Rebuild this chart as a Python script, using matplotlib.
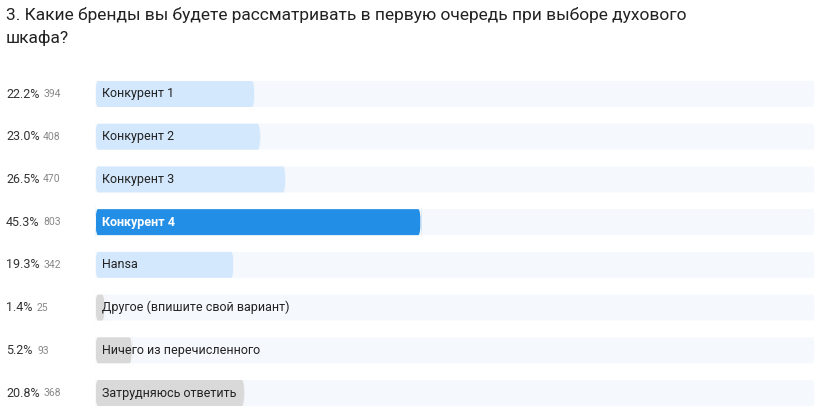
import matplotlib
matplotlib.use("Agg")
import matplotlib.pyplot as plt
from matplotlib.patches import FancyBboxPatch

labels = ["Конкурент 1", "Конкурент 2", "Конкурент 3", "Конкурент 4", "Hansa",
          "Другое (впишите свой вариант)", "Ничего из перечисленного", "Затрудняюсь ответить"]
pcts = [22.2, 23.0, 26.5, 45.3, 19.3, 1.4, 5.2, 20.8]
counts = [394, 408, 470, 803, 342, 25, 93, 368]
kinds = ["light", "light", "light", "dark", "light", "gray", "gray", "gray"]
colors = {"light": "#d3e8fd", "dark": "#238ee6", "gray": "#d9d9d9"}

plt.rcParams['font.family'] = ['Roboto', 'DejaVu Sans']
W, H = 826, 416
fig = plt.figure(figsize=(W/100, H/100), dpi=100)
row = 42.75
top = 94 - row/2
bottom = 393 + row/2
ax = fig.add_axes([95/W, 1 - bottom/H, 720/W, (bottom-top)/H])
n = len(labels)
ax.set_xlim(0, 100)
ax.set_ylim(n - 0.5, -0.5)
ax.axis("off")
bh = 26/row
for i in range(n):
    ax.add_patch(FancyBboxPatch((0, i - bh/2), 100, bh, boxstyle="round,pad=0,rounding_size=0.3",
                                fc="#f5f8fc", ec="none", mutation_aspect=bh*3))
    w = max(pcts[i], 1.4)
    ax.add_patch(FancyBboxPatch((0, i - bh/2), w, bh, boxstyle="round,pad=0,rounding_size=0.4",
                                fc=colors[kinds[i]], ec="none", mutation_aspect=bh*3))
    ax.text(1.0, i, labels[i], va="center", ha="left", fontsize=9,
            color="white" if kinds[i] == "dark" else "#222222",
            fontweight="bold" if kinds[i] == "dark" else "normal")
    y = 1 - (94 + row*i)/H
    fig.text(6/W, y, f"{pcts[i]:.1f}%", va="center", ha="left", fontsize=9, color="#333333")
    fig.text((43 if pcts[i] >= 10 else 37)/W, y, str(counts[i]), va="center", ha="left",
             fontsize=7.5, color="#888888")

fig.text(6/W, 1 - 15/H, "3. Какие бренды вы будете рассматривать в первую очередь при выборе духового",
         va="center", ha="left", fontsize=12.5, color="#222222")
fig.text(6/W, 1 - 38/H, "шкафа?", va="center", ha="left", fontsize=12.5, color="#222222")
fig.savefig("out.png", dpi=100, facecolor="white")
